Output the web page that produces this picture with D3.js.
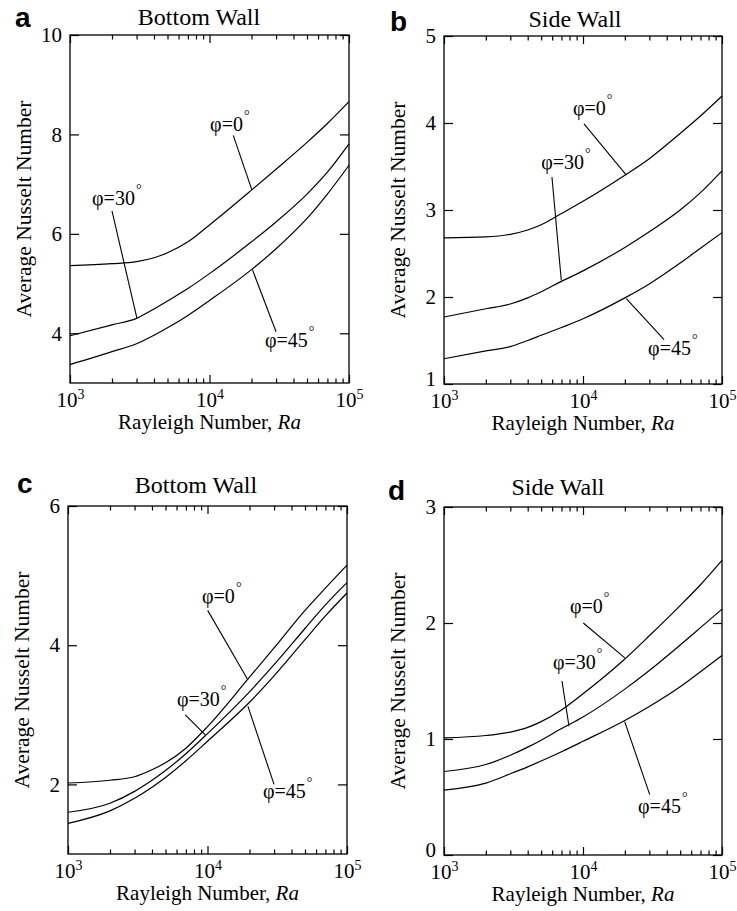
<!DOCTYPE html>
<html>
<head>
<meta charset="utf-8">
<script src="https://cdn.jsdelivr.net/npm/d3@7"></script>
<style>
  body { margin: 0; background: #fff; }
  svg text { font-family: "Liberation Serif", "Times New Roman", serif; fill: #000; }
  .frame { fill: none; stroke: #000; stroke-width: 1.3; }
  .curve { fill: none; stroke: #000; stroke-width: 1.2; }
  .leader { stroke: #000; stroke-width: 1.1; }
  .domain { display: none; }
  .letter { font-family: "Liberation Sans", Arial, sans-serif !important; font-weight: bold; font-size: 28px; }
</style>
</head>
<body>
<svg id="fig" width="737" height="911"></svg>
<script>
// Rayleigh numbers shared by every curve
const ra = [1e3, 2e3, 3e3, 4e3, 5e3, 7e3, 1e4, 2e4, 3e4, 5e4, 7e4, 1e5];
const labels = ['φ=0', 'φ=30', 'φ=45'];

// (a) bottom wall
const nuA0  = [5.36, 5.40, 5.44, 5.52, 5.62, 5.84, 6.18, 6.88, 7.30, 7.84, 8.22, 8.66];
const nuA30 = [3.95, 4.17, 4.30, 4.49, 4.65, 4.90, 5.20, 5.84, 6.24, 6.80, 7.24, 7.81];
const nuA45 = [3.37, 3.63, 3.79, 3.96, 4.11, 4.36, 4.66, 5.28, 5.70, 6.31, 6.80, 7.38];

// (b) side wall
const nuB0  = [2.68, 2.69, 2.72, 2.77, 2.83, 2.96, 3.10, 3.40, 3.59, 3.88, 4.08, 4.31];
const nuB30 = [1.77, 1.865, 1.92, 1.99, 2.06, 2.18, 2.30, 2.57, 2.75, 3.00, 3.20, 3.45];
const nuB45 = [1.29, 1.38, 1.43, 1.50, 1.56, 1.65, 1.75, 1.99, 2.15, 2.39, 2.56, 2.74];

// (c) bottom wall
const nuC0  = [2.02, 2.06, 2.11, 2.21, 2.31, 2.52, 2.83, 3.54, 3.96, 4.50, 4.82, 5.15];
const nuC30 = [1.60, 1.73, 1.90, 2.06, 2.20, 2.44, 2.73, 3.33, 3.72, 4.24, 4.58, 4.90];
const nuC45 = [1.44, 1.62, 1.80, 1.96, 2.10, 2.34, 2.62, 3.18, 3.56, 4.08, 4.42, 4.75];

// (d) side wall
const nuD0  = [1.01, 1.03, 1.06, 1.10, 1.15, 1.25, 1.39, 1.69, 1.89, 2.15, 2.33, 2.54];
const nuD30 = [0.72, 0.78, 0.86, 0.93, 0.99, 1.09, 1.19, 1.43, 1.59, 1.81, 1.96, 2.12];
const nuD45 = [0.56, 0.62, 0.70, 0.76, 0.81, 0.89, 0.98, 1.16, 1.28, 1.45, 1.58, 1.72];

// y tick values
const yTicksA = [4, 6, 8, 10];
const yTicksB = [1, 2, 3, 4, 5];
const yTicksC = [2, 4, 6];
const yTicksD = [0, 1, 2, 3];

// label anchor, leader start and end, in data units (Ra, Nu)
const notesA = [
  { s: 0, at: [10100, 8.06], from: [14800, 7.98], to: [20100, 6.89] },
  { s: 1, at: [1440, 6.59], from: [2000, 6.46], to: [3020, 4.30] },
  { s: 2, at: [25000, 3.72], from: [20300, 5.28], to: [30000, 4.03] }
];
const notesB = [
  { s: 0, at: [8470, 4.09], from: [10170, 3.99], to: [20500, 3.40] },
  { s: 1, at: [5010, 3.47], from: [5980, 3.38], to: [6980, 2.19] },
  { s: 2, at: [29400, 1.33], from: [20500, 1.98], to: [38300, 1.51] }
];
const notesC = [
  { s: 0, at: [9140, 4.61], from: [10030, 4.50], to: [19500, 3.50] },
  { s: 1, at: [6040, 3.12], from: [6930, 3.00], to: [9640, 2.71] },
  { s: 2, at: [25000, 1.81], from: [19500, 3.12], to: [30000, 2.00] }
];
const notesD = [
  { s: 0, at: [8060, 2.09], from: [10050, 2.00], to: [20000, 1.70] },
  { s: 1, at: [6080, 1.607], from: [7060, 1.50], to: [7930, 1.11] },
  { s: 2, at: [24900, 0.36], from: [19950, 1.15], to: [30200, 0.52] }
];

const panels = [
  { letter: 'a', title: 'Bottom Wall', left: 70, right: 349, top: 35, bottom: 383,
    yDomain: [3, 10], yTicks: yTicksA, values: [nuA0, nuA30, nuA45], notes: notesA,
    titlePos: [199, 25], letterPos: [15, 27] },
  { letter: 'b', title: 'Side Wall', left: 444, right: 722, top: 36, bottom: 384,
    yDomain: [1, 5], yTicks: yTicksB, values: [nuB0, nuB30, nuB45], notes: notesB,
    titlePos: [575, 27], letterPos: [390, 31] },
  { letter: 'c', title: 'Bottom Wall', left: 68, right: 347, top: 506, bottom: 854,
    yDomain: [1, 6], yTicks: yTicksC, values: [nuC0, nuC30, nuC45], notes: notesC,
    titlePos: [196, 493], letterPos: [17, 493] },
  { letter: 'd', title: 'Side Wall', left: 444, right: 722, top: 507, bottom: 855,
    yDomain: [0, 3], yTicks: yTicksD, values: [nuD0, nuD30, nuD45], notes: notesD,
    titlePos: [558, 495], letterPos: [388, 500] }
];

const svg = d3.select('#fig');
const minorTicks = d3.range(3, 5).flatMap(e => d3.range(2, 10).map(m => m * Math.pow(10, e)));
const majorTicks = [1e3, 1e4, 1e5];

panels.forEach(p => {
  const g = svg.append('g');
  const x = d3.scaleLog().domain([1e3, 1e5]).range([p.left, p.right]);
  const y = d3.scaleLinear().domain(p.yDomain).range([p.bottom, p.top]);

  // ticks, all pointing inwards
  g.append('g').attr('transform', 'translate(0,' + p.bottom + ')')
    .call(d3.axisBottom(x).tickValues(minorTicks).tickSize(-4.5).tickFormat(''));
  g.append('g').attr('transform', 'translate(0,' + p.top + ')')
    .call(d3.axisTop(x).tickValues(minorTicks).tickSize(-4.5).tickFormat(''));
  g.append('g').attr('transform', 'translate(0,' + p.top + ')')
    .call(d3.axisTop(x).tickValues(majorTicks).tickSize(-8).tickFormat(''));

  let xAxis = g.append('g')
    .attr('transform', 'translate(0,' + p.bottom + ')')
    .call(d3.axisBottom(x).tickValues(majorTicks).tickSize(-8).tickPadding(9).tickFormat(() => '10'));
  xAxis.attr('font-size', 21).attr('font-family', null);
  xAxis.selectAll('.tick text').each(function(d) {
    d3.select(this).append('tspan')
      .attr('dy', -7.6)
      .attr('font-size', 14)
      .text(Math.round(Math.log10(d)));
  });

  let yAxis = g.append('g')
    .attr('transform', 'translate(' + p.left + ',0)')
    .call(d3.axisLeft(y).tickValues(p.yTicks).tickSize(-9).tickPadding(8).tickFormat(d3.format('d')));
  yAxis.attr('font-size', 21).attr('font-family', null);
  // lowest label sits right above the 10^3 label, lift it a little
  yAxis.selectAll('.tick text')
    .filter(d => d === p.yDomain[0])
    .attr('y', -5);
  g.append('g')
    .attr('transform', 'translate(' + p.right + ',0)')
    .call(d3.axisRight(y).tickValues(p.yTicks).tickSize(-9).tickFormat(''));
  g.selectAll('.tick line').attr('stroke-width', 1.2);

  // frame
  g.append('rect')
    .attr('class', 'frame')
    .attr('x', p.left)
    .attr('y', p.top)
    .attr('width', p.right - p.left)
    .attr('height', p.bottom - p.top);

  // curves
  let line = d3.line()
    .x(d => x(d[0]))
    .y(d => y(d[1]))
    .curve(d3.curveMonotoneX);

  p.values.forEach(vals => {
    g.append('path')
      .attr('class', 'curve')
      .attr('d', line(ra.map((r, i) => [r, vals[i]])));
  });

  // leaders and labels
  p.notes.forEach(n => {
    g.append('line')
      .attr('class', 'leader')
      .attr('x1', x(n.from[0])).attr('y1', y(n.from[1]))
      .attr('x2', x(n.to[0])).attr('y2', y(n.to[1]));
    let t = g.append('text')
      .attr('x', x(n.at[0]))
      .attr('y', y(n.at[1]))
      .attr('font-size', 20)
      .text(labels[n.s]);
    t.append('tspan')
      .attr('dx', 1)
      .attr('dy', -11)
      .attr('font-size', 14)
      .text('°');
  });

  // axis titles
  let xt = g.append('text')
    .attr('x', (p.left + p.right) / 2)
    .attr('y', p.bottom + 46)
    .attr('text-anchor', 'middle')
    .attr('font-size', 21)
    .text('Rayleigh Number, ');
  xt.append('tspan').attr('font-style', 'italic').text('Ra');

  g.append('text')
    .attr('transform', 'translate(' + (p.left - 39) + ',' + (p.top + p.bottom) / 2 + ') rotate(-90)')
    .attr('text-anchor', 'middle')
    .attr('font-size', 21.5)
    .text('Average Nusselt Number');

  g.append('text')
    .attr('x', p.titlePos[0])
    .attr('y', p.titlePos[1])
    .attr('text-anchor', 'middle')
    .attr('font-size', 24)
    .text(p.title);

  g.append('text')
    .attr('class', 'letter')
    .attr('x', p.letterPos[0])
    .attr('y', p.letterPos[1])
    .text(p.letter);
});
</script>
</body>
</html>
